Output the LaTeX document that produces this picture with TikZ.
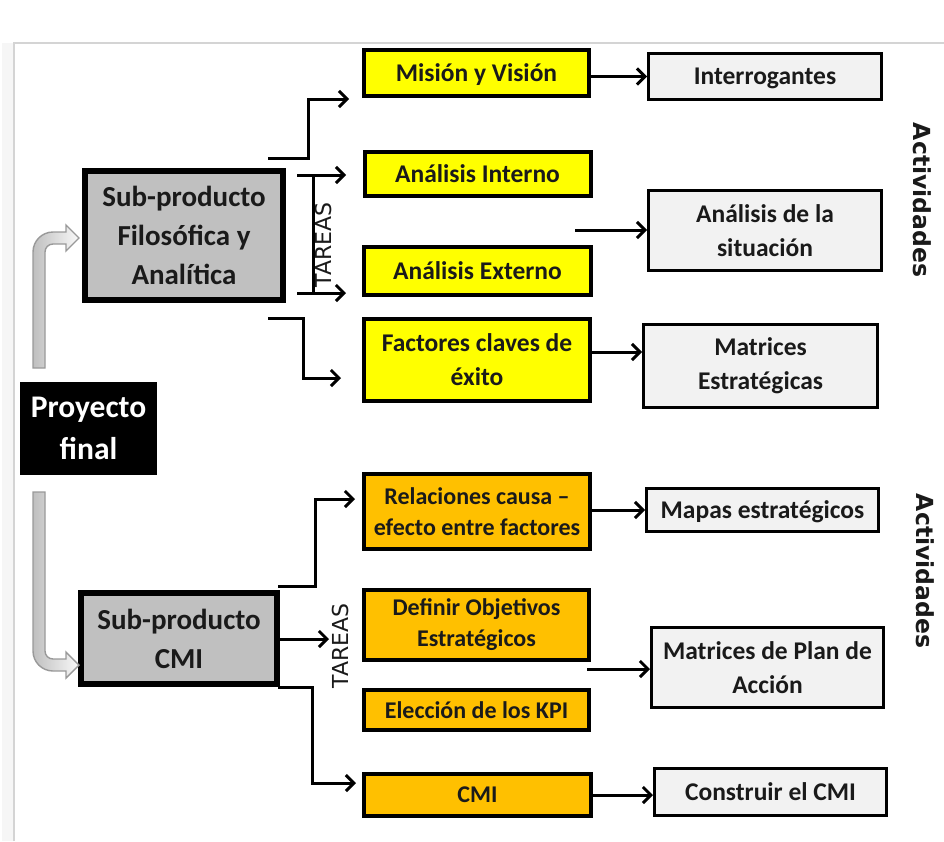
\documentclass[tikz,border=0pt]{standalone}
\usepackage{fontspec}
\setmainfont{Carlito}
\newfontfamily\dejavu{DejaVu Sans}
\usetikzlibrary{arrows.meta,calc}

\definecolor{yellowbox}{HTML}{FFFF00}
\definecolor{orangebox}{HTML}{FFC000}
\definecolor{graybox}{HTML}{C0C0C0}
\definecolor{whitebox}{HTML}{F2F2F2}
\definecolor{framegray}{HTML}{D4D4D4}
\definecolor{textdark}{HTML}{1A1A1A}

\begin{document}
\begin{tikzpicture}[x=1pt,y=-1pt,
  box/.style={draw=black, align=center, inner sep=0pt, text=textdark,
    font=\bfseries\fontsize{25.5}{34}\selectfont},
  oneline/.style={text depth=0pt},
  yel/.style={box, fill=yellowbox, line width=4pt},
  org/.style={box, fill=orangebox, line width=4pt,
    font=\bfseries\fontsize{24}{31}\selectfont},
  wht/.style={box, fill=whitebox, line width=3pt},
  gry/.style={box, fill=graybox, line width=6pt,
    font=\bfseries\fontsize{29}{39}\selectfont},
  blk/.style={box, fill=black, draw=none, text=white,
    font=\bfseries\fontsize{31.5}{42}\selectfont},
  conn/.style={line width=3pt, -{Straight Barb[length=8pt,width=16pt]}},
  plain/.style={line width=3pt},
  tareas/.style={font=\dejavu\fontsize{22}{22}\selectfont, text=textdark, rotate=90, inner sep=0pt},
  activ/.style={font=\dejavu\bfseries\fontsize{23.5}{23.5}\selectfont, text=textdark, rotate=-90, inner sep=0pt},
  blockarrow/.style={draw=gray!80, line width=1.4pt, left color=gray!50, right color=gray!5}
]
\useasboundingbox (0,0) rectangle (944,841);

% page frame
\fill[gray!7] (2,43) rectangle (13,841);
\draw[framegray, line width=2pt] (14,841) -- (14,43) -- (944,43);

% ---- first sub-product and its tasks
\node[yel, oneline, minimum width=225, minimum height=46] (mv) at (476.5,73) {Misión y Visión};
\node[wht, oneline, minimum width=233, minimum height=46] (inte) at (765,76.5) {Interrogantes};
\node[yel, oneline, minimum width=226, minimum height=44] (ain) at (477.5,174) {Análisis Interno};
\node[wht, minimum width=233, minimum height=80] (asit) at (765,230.5) {Análisis de la\\situación};
\node[yel, oneline, minimum width=227, minimum height=48] (aex) at (477.5,271) {Análisis Externo};
\node[yel, minimum width=226, minimum height=82] (fce) at (477,360) {Factores claves de\\éxito};
\node[wht, minimum width=234, minimum height=83] (mes) at (760.5,366) {Matrices\\Estratégicas};
\node[gry, minimum width=198, minimum height=129] (sp1) at (184,235.5) {Sub-producto\\Filosófica y\\Analítica};

% ---- project
\node[blk, minimum width=137, minimum height=93] (pf) at (88.5,428.5) {Proyecto\\final};

% ---- second sub-product and its tasks
\node[gry, minimum width=196, minimum height=91] (sp2) at (179,638.5) {Sub-producto\\CMI};
\node[org, minimum width=226, minimum height=75] (rce) at (477,511.5) {Relaciones causa –\\efecto entre factores};
\node[wht, oneline, minimum width=232, minimum height=43] (mae) at (762.5,510) {Mapas estratégicos};
\node[org, minimum width=225, minimum height=70] (dob) at (476.5,625) {Definir Objetivos\\Estratégicos};
\node[wht, minimum width=232, minimum height=80] (mpa) at (767.5,667.5) {Matrices de Plan de\\Acción};
\node[org, oneline, minimum width=225, minimum height=40] (ekp) at (476.5,710) {Elección de los KPI};
\node[org, oneline, minimum width=227, minimum height=42] (cmi) at (477.5,795) {CMI};
\node[wht, oneline, minimum width=232, minimum height=47] (ccm) at (770.5,792) {Construir el CMI};

% ---- side labels
\node[tareas] (tar1) at (323,245) {TAREAS};
\node[tareas] (tar2) at (340,646) {TAREAS};
\node[activ] (act1) at (922,200) {Actividades};
\node[activ] (act2) at (925,571) {Actividades};

% ---- block arrows from the project to the sub-products
\path[blockarrow] (33,368) -- (33,252) arc(180:270:20) -- (66,232) -- (66,225)
  -- (79,238) -- (66,251) -- (66,244) -- (53,244) arc(270:180:8) -- (45,368) -- cycle;
\path[blockarrow] (33,492) -- (33,651) arc(180:90:20) -- (66,671) -- (66,678)
  -- (79,665) -- (66,652) -- (66,659) -- (53,659) arc(90:180:8) -- (45,492) -- cycle;

% ---- task connectors, first group
\coordinate (s1) at (268,158);  \coordinate (e1) at (349,99);
\coordinate (s2) at (297,175);  \coordinate (e2) at (346,175);
\coordinate (s3) at (297,293);  \coordinate (e3) at (346,293);
\coordinate (s4) at (268,318);  \coordinate (e4) at (341,378);
\coordinate (b1) at (313,175);  \coordinate (b2) at (313,293);
\draw[conn] (s1) -| ($(e1)+(-41,0)$) -- (e1);
\draw[conn] (s2) -- (e2);
\draw[conn] (s3) -- (e3);
\draw[plain] (b1) -- (b2);
\draw[conn] (s4) -| ($(e4)+(-38,0)$) -- (e4);

% ---- activity connectors, first group
\draw[conn] (mv.east |- inte.west) -- (inte.west);
\coordinate (s5) at (575,230);
\draw[conn] (s5) -- (asit.west |- s5);
\coordinate (s6) at (591,352);
\draw[conn] (s6) -- (mes.west |- s6);

% ---- task connectors, second group
\coordinate (s7) at (278,586);  \coordinate (e7) at (355,499);
\coordinate (s8) at (280,639);  \coordinate (e8) at (329,639);
\coordinate (s9) at (278,687);  \coordinate (e9) at (356,783);
\draw[conn] (s7) -| ($(e7)+(-40,0)$) -- (e7);
\draw[conn] (s8) -- (e8);
\draw[conn] (s9) -| ($(e9)+(-44,0)$) -- (e9);

% ---- activity connectors, second group
\draw[conn] (rce.east |- mae.west) -- (mae.west);
\coordinate (s10) at (587,669);
\draw[conn] (s10) -- (mpa.west |- s10);
\draw[conn] (cmi.east) -- (ccm.west |- cmi.east);
\end{tikzpicture}
\end{document}
